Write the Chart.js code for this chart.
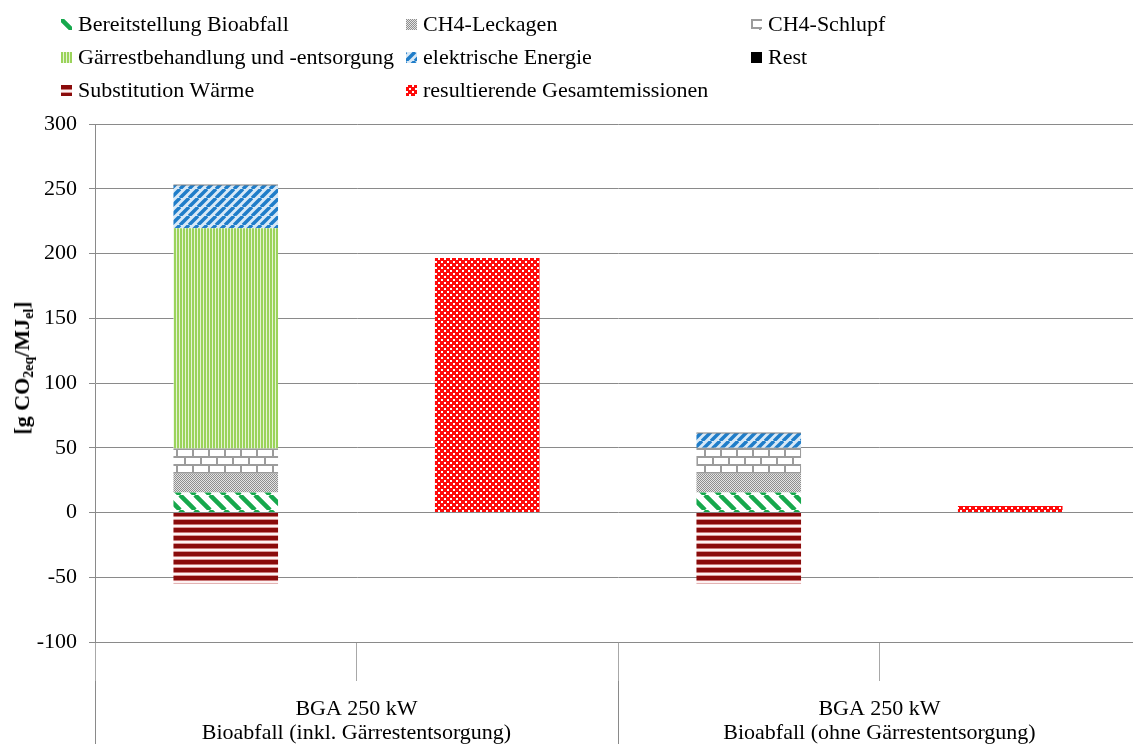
<!DOCTYPE html>
<html>
<head>
<meta charset="utf-8">
<script src="https://cdn.jsdelivr.net/npm/chart.js@4"></script>
<style>
html,body{margin:0;padding:0;background:#fff;overflow:hidden;width:1133px;height:744px}
#wrap{position:absolute;left:0;top:0;width:1146px;height:760px}
#legend{position:absolute;left:0;top:0;width:1133px;height:110px;font:22px 'Liberation Serif','Times New Roman',serif;color:#000}
.li{position:absolute;display:flex;align-items:center;white-space:nowrap;height:30px;line-height:30px}
.li canvas{width:11px;height:11px;margin-right:6px;flex-shrink:0}
#ytitle{position:absolute;left:22px;top:368px;transform:translate(-50%,-50%) rotate(-90deg);font:bold 22px 'Liberation Serif','Times New Roman',serif;white-space:nowrap;color:#000}
#ytitle sub{font-size:14px;vertical-align:-4px;line-height:0}
</style>
</head>
<body>
<div id="wrap"><canvas id="c" width="1146" height="760"></canvas></div>
<div id="legend"></div>
<div id="ytitle">[g CO<sub>2eq</sub>/MJ<sub>el</sub>]</div>
<script>
// ── data ──
const categories=['','','',''];
const groupLabels=[['BGA 250 kW','Bioabfall (inkl. Gärrestentsorgung)'],['BGA 250 kW','Bioabfall (ohne Gärrestentsorgung)']];
const seriesNames=['Bereitstellung Bioabfall','CH4-Leckagen','CH4-Schlupf','Gärrestbehandlung und -entsorgung','elektrische Energie','Rest','Substitution Wärme','resultierende Gesamtemissionen'];
const bereitstellung=[15.5,null,15.5,null];
const leckagen      =[14.5,null,14.5,null];
const schlupf       =[19.5,null,20,null];
const gaerrest      =[170,null,0,null];
const elektrisch    =[33,null,11,null];
const rest          =[0.5,null,0.5,null];
const substitution  =[-55,null,-55,null];
const resultierend  =[null,196.5,null,5];
const yMin=-100, yMax=300, yStep=50;

// ── fill tiles (Excel-like patterns) ──
function tile(kind){
  const c=document.createElement('canvas'); let g;
  if(kind==='green'){ const s=15; c.width=c.height=s; g=c.getContext('2d');
    g.fillStyle='#fff';g.fillRect(0,0,s,s);g.strokeStyle='#16a84c';g.lineWidth=4.5;g.beginPath();
    for(let k=-1;k<=1;k++){g.moveTo(k*s,0);g.lineTo(k*s+s,s);} g.stroke(); }
  else if(kind==='dots'){ c.width=c.height=2; g=c.getContext('2d');
    g.fillStyle='#e4e4e4';g.fillRect(0,0,2,2);g.fillStyle='#8e8e8e';g.fillRect(0,0,1,1);g.fillRect(1,1,1,1); }
  else if(kind==='brick'){ c.width=c.height=16; g=c.getContext('2d');
    g.fillStyle='#fff';g.fillRect(0,0,16,16);g.fillStyle='#9c9c9c';
    g.fillRect(0,0,16,2);g.fillRect(0,8,16,2);g.fillRect(0,0,2,8);g.fillRect(8,8,2,8); }
  else if(kind==='vert'){ c.width=3;c.height=1; g=c.getContext('2d');
    g.fillStyle='#9bd35b';g.fillRect(0,0,2,1);g.fillStyle='#e6f4d6';g.fillRect(2,0,1,1); }
  else if(kind==='blue'){ const s=9; c.width=c.height=s; g=c.getContext('2d');
    g.fillStyle='#d8e9f7';g.fillRect(0,0,s,s);g.strokeStyle='#1f7dc9';g.lineWidth=3.5;g.beginPath();
    for(let k=-1;k<=1;k++){g.moveTo(k*s,s);g.lineTo(k*s+s,0);} g.stroke(); }
  else if(kind==='hstripe'){ c.width=1;c.height=8; g=c.getContext('2d');
    g.fillStyle='#8a0b0b';g.fillRect(0,0,1,4);g.fillStyle='#c97777';g.fillRect(0,4,1,1);
    g.fillStyle='#fdf2f2';g.fillRect(0,5,1,2);g.fillStyle='#d99a9a';g.fillRect(0,7,1,1); }
  else if(kind==='check'){ c.width=c.height=6; g=c.getContext('2d');
    g.fillStyle='#ff0a0a';g.fillRect(0,0,6,6);g.fillStyle='#fff';g.fillRect(0,0,2,2);g.fillRect(3,3,2,2); }
  else { c.width=c.height=2; g=c.getContext('2d'); g.fillStyle='#000'; g.fillRect(0,0,2,2); }
  return c;
}
const tileKinds=['green','dots','brick','vert','blue','solid','hstripe','check'];
const tiles=tileKinds.map(tile);

const ctx=document.getElementById('c').getContext('2d');
const fills=tiles.map(t=>ctx.createPattern(t,'repeat'));
const seriesData=[bereitstellung,leckagen,schlupf,gaerrest,elektrisch,rest,substitution,resultierend];

Chart.defaults.font.family="'Liberation Serif','Times New Roman',serif";
Chart.defaults.font.size=22;
Chart.defaults.color='#000';

const GRID='#8a8a8a';
const chart=new Chart(ctx,{
  type:'bar',
  data:{
    labels:categories,
    datasets:seriesData.map((d,i)=>({label:seriesNames[i],data:d,backgroundColor:fills[i],borderWidth:0,
      categoryPercentage:1,barPercentage:0.4}))
  },
  options:{
    responsive:false,animation:false,
    layout:{padding:{top:124,right:5,bottom:0,left:0}},
    plugins:{legend:{display:false},tooltip:{enabled:false}},
    scales:{
      x:{stacked:true,offset:true,weight:0,
        grid:{offset:true,drawOnChartArea:false,tickLength:39,color:'#a8a8a8'},
        border:{color:GRID},ticks:{display:false},
        afterFit:s=>{s.height=39;}},
      x2:{type:'category',labels:groupLabels,position:'bottom',offset:true,weight:1,
        grid:{offset:true,drawOnChartArea:false,tickLength:120,color:GRID},
        border:{display:false},
        ticks:{padding:-104,autoSkip:false,maxRotation:0,font:{size:22,lineHeight:1.1}},
        afterFit:s=>{s.height=79;}},
      y:{stacked:true,min:yMin,max:yMax,
        ticks:{stepSize:yStep,padding:12},
        grid:{color:GRID,tickLength:6},border:{color:GRID},
        afterFit:s=>{s.width=95;}}
    }
  }
});

// ── legend in three columns ──
const legendPos=[[61,9],[406,9],[751,9],[61,42],[406,42],[751,42],[61,75],[406,75]];
const lg=document.getElementById('legend');
chart.data.datasets.forEach((ds,i)=>{
  const it=document.createElement('div'); it.className='li';
  it.style.left=legendPos[i][0]+'px'; it.style.top=legendPos[i][1]+'px';
  const sw=document.createElement('canvas'); sw.width=11; sw.height=11;
  const sg=sw.getContext('2d'); sg.fillStyle=sg.createPattern(tiles[i],'repeat'); sg.fillRect(0,0,11,11);
  it.appendChild(sw);
  it.appendChild(document.createTextNode(ds.label));
  lg.appendChild(it);
});
</script>
</body>
</html>
